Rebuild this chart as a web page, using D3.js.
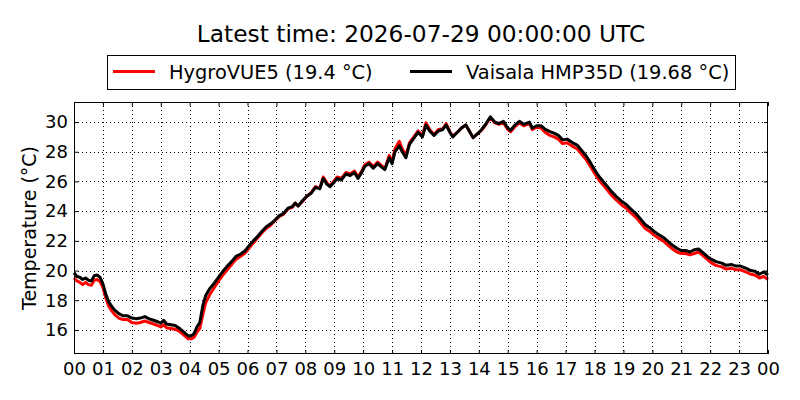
<!DOCTYPE html>
<html>
<head>
<meta charset="utf-8">
<script src="https://cdn.jsdelivr.net/npm/d3@7"></script>
<style>
  body { margin: 0; background: #fff; }
  svg { display: block; font-family: "DejaVu Sans", sans-serif; }
</style>
</head>
<body>
<div id="chart"></div>
<script>
// Data (hours since 00 UTC)
var hours = [
    0.00, 0.10, 0.20, 0.30, 0.40, 0.50, 0.60, 0.70, 0.80, 0.90,
    1.00, 1.10, 1.20, 1.30, 1.40, 1.55, 1.70, 1.85, 2.00, 2.15,
    2.30, 2.45, 2.60, 2.75, 2.90, 3.00, 3.10, 3.20, 3.35, 3.50,
    3.65, 3.80, 3.95, 4.05, 4.15, 4.25, 4.35, 4.45, 4.55, 4.70,
    4.85, 5.00, 5.15, 5.30, 5.45, 5.60, 5.75, 5.90, 6.05, 6.20,
    6.35, 6.50, 6.65, 6.80, 6.95, 7.10, 7.25, 7.40, 7.55, 7.65,
    7.75, 7.90, 8.05, 8.20, 8.35, 8.50, 8.62, 8.75, 8.85, 9.00,
    9.10, 9.25, 9.40, 9.55, 9.70, 9.82, 9.95, 10.05, 10.20, 10.35,
    10.50, 10.65, 10.75, 10.90, 11.00, 11.10, 11.25, 11.35, 11.48, 11.60,
    11.75, 11.90, 12.05, 12.17, 12.30, 12.45, 12.60, 12.75, 12.87, 13.00,
    13.10, 13.25, 13.40, 13.55, 13.70, 13.80, 13.95, 14.10, 14.25, 14.40,
    14.55, 14.70, 14.85, 15.00, 15.10, 15.25, 15.40, 15.55, 15.75, 15.85,
    16.00, 16.15, 16.30, 16.46, 16.60, 16.75, 16.90, 17.05, 17.25, 17.40,
    17.55, 17.70, 17.85, 18.00, 18.15, 18.30, 18.45, 18.60, 18.75, 18.95,
    19.10, 19.25, 19.45, 19.60, 19.75, 19.90, 20.05, 20.20, 20.40, 20.55,
    20.70, 20.85, 21.00, 21.15, 21.30, 21.45, 21.60, 21.75, 21.90, 22.05,
    22.20, 22.40, 22.55, 22.75, 22.90, 23.05, 23.25, 23.40, 23.55, 23.70,
    23.85, 24.00
];

var hygrovue = [
    19.5, 19.3, 19.2, 19.05, 19.2, 19.05, 19.0, 19.35, 19.4, 19.25,
    18.85, 18.15, 17.6, 17.3, 17.05, 16.8, 16.7, 16.7, 16.5, 16.45,
    16.5, 16.6, 16.5, 16.4, 16.3, 16.2, 16.35, 16.15, 16.1, 16.05,
    15.9, 15.65, 15.4, 15.4, 15.5, 15.85, 16.1, 17.0, 17.8, 18.4,
    18.85, 19.3, 19.7, 20.05, 20.4, 20.75, 20.95, 21.15, 21.5, 21.85,
    22.2, 22.55, 22.85, 23.05, 23.35, 23.65, 23.8, 24.15, 24.25, 24.55,
    24.35, 24.65, 25.0, 25.25, 25.65, 25.55, 26.3, 25.9, 25.7, 26.05,
    26.3, 26.2, 26.6, 26.5, 26.7, 26.3, 26.7, 27.1, 27.3, 27.0,
    27.3, 27.05, 26.85, 27.75, 27.3, 28.2, 28.7, 28.2, 27.75, 28.6,
    29.0, 29.4, 29.1, 29.95, 29.5, 29.15, 29.5, 29.55, 29.9, 29.35,
    29.05, 29.3, 29.6, 29.8, 29.3, 28.95, 29.2, 29.45, 29.85, 30.3,
    29.95, 29.85, 29.95, 29.5, 29.35, 29.7, 29.95, 29.75, 29.9, 29.5,
    29.65, 29.6, 29.3, 29.1, 29.0, 28.85, 28.55, 28.6, 28.35, 28.2,
    27.85, 27.5, 27.05, 26.55, 26.1, 25.75, 25.4, 25.05, 24.75, 24.4,
    24.2, 23.9, 23.55, 23.2, 22.85, 22.65, 22.4, 22.2, 21.95, 21.7,
    21.45, 21.25, 21.15, 21.15, 21.05, 21.15, 21.25, 21.0, 20.75, 20.5,
    20.35, 20.25, 20.1, 20.15, 20.05, 20.05, 19.9, 19.75, 19.7, 19.5,
    19.6, 19.4
];

var vaisala = [
    19.85, 19.6, 19.55, 19.4, 19.5, 19.35, 19.3, 19.65, 19.7, 19.55,
    19.1, 18.4, 17.9, 17.6, 17.35, 17.1, 16.95, 16.95, 16.8, 16.75,
    16.8, 16.9, 16.75, 16.65, 16.55, 16.45, 16.65, 16.4, 16.35, 16.3,
    16.1, 15.85, 15.6, 15.6, 15.75, 16.2, 16.5, 17.6, 18.3, 18.8,
    19.15, 19.55, 19.95, 20.3, 20.6, 20.95, 21.1, 21.3, 21.65, 22.0,
    22.3, 22.65, 22.95, 23.15, 23.4, 23.7, 23.85, 24.2, 24.3, 24.55,
    24.35, 24.7, 25.0, 25.2, 25.6, 25.5, 26.2, 25.8, 25.65, 25.95,
    26.2, 26.1, 26.5, 26.4, 26.6, 26.2, 26.6, 27.0, 27.2, 26.9,
    27.2, 26.95, 26.8, 27.6, 27.2, 28.0, 28.4, 28.0, 27.6, 28.5,
    28.9, 29.3, 29.0, 29.8, 29.4, 29.1, 29.4, 29.5, 29.8, 29.3,
    29.0, 29.3, 29.6, 29.8, 29.3, 28.95, 29.2, 29.5, 29.9, 30.35,
    30.0, 29.9, 30.05, 29.6, 29.45, 29.8, 30.05, 29.85, 30.0, 29.6,
    29.75, 29.75, 29.5, 29.35, 29.25, 29.1, 28.8, 28.85, 28.6, 28.45,
    28.1, 27.75, 27.3, 26.8, 26.35, 26.0, 25.65, 25.3, 25.0, 24.65,
    24.45, 24.15, 23.8, 23.45, 23.1, 22.9, 22.65, 22.45, 22.2, 21.95,
    21.7, 21.5, 21.35, 21.35, 21.25, 21.4, 21.45, 21.2, 20.95, 20.75,
    20.6, 20.5, 20.35, 20.4, 20.3, 20.3, 20.15, 20.0, 19.95, 19.75,
    19.9, 19.7
];

var yTicks = [16, 18, 20, 22, 24, 26, 28, 30];
var xTicks = d3.range(0, 25);
var seriesNames = ['HygroVUE5 (19.4 °C)', 'Vaisala HMP35D (19.68 °C)'];
var seriesColors = ['#ff0000', '#000000'];
var titleText = 'Latest time: 2026-07-29 00:00:00 UTC';

var w = 800, h = 400;
var margin = {top: 102, right: 32, bottom: 46, left: 74};
var iw = w - margin.left - margin.right;
var ih = h - margin.top - margin.bottom;

var svg = d3.select('#chart').append('svg')
    .attr('width', w)
    .attr('height', h)
;

// Scales
var x = d3.scaleLinear().domain([0, 24]).range([0, iw]);
var y = d3.scaleLinear().domain([14.38, 31.35]).range([ih, 0]);

var g = svg.append('g')
    .attr('transform', 'translate(' + margin.left + ',' + margin.top + ')');

// Grid
g.append('g').selectAll('line')
    .data(xTicks.slice(1, -1))
    .enter().append('line')
    .attr('x1', function (d) { return Math.round(x(d)) + 0.5; })
    .attr('x2', function (d) { return Math.round(x(d)) + 0.5; })
    .attr('y1', 0)
    .attr('y2', ih)
    .attr('stroke', '#000')
    .attr('stroke-width', 1)
    .attr('stroke-dasharray', '1,3')
;
g.append('g').selectAll('line')
    .data(yTicks)
    .enter().append('line')
    .attr('x1', 0)
    .attr('x2', iw)
    .attr('y1', function (d) { return Math.round(y(d)) + 0.5; })
    .attr('y2', function (d) { return Math.round(y(d)) + 0.5; })
    .attr('stroke', '#000')
    .attr('stroke-width', 1)
    .attr('stroke-dasharray', '1,3')
;

// Lines
var line = d3.line()
    .x(function (d) { return x(d[0]); })
    .y(function (d) { return y(d[1]); })
;
[hygrovue, vaisala].forEach(function (vals, k) {
    g.append('path')
        .datum(hours.map(function (t, i) { return [t, vals[i]]; }))
        .attr('d', line)
        .attr('fill', 'none')
        .attr('stroke', seriesColors[k])
        .attr('stroke-width', 3)
        .attr('stroke-linejoin', 'round')
    ;
});

// Axes (ticks inward, matplotlib classic)
var fmtHour = function (d) { return d3.format('02d')(d % 24); };
var xAxis = g.append('g')
    .attr('transform', 'translate(0,' + ih + ')')
    .call(d3.axisBottom(x).tickValues(xTicks).tickFormat(fmtHour).tickSizeInner(-4).tickSizeOuter(0).tickPadding(8));
var xAxisTop = g.append('g')
    .call(d3.axisTop(x).tickValues(xTicks).tickFormat('').tickSizeInner(-4).tickSizeOuter(0));
var yAxis = g.append('g')
    .call(d3.axisLeft(y).tickValues(yTicks).tickSizeInner(-4).tickSizeOuter(0).tickPadding(6));
var yAxisRight = g.append('g')
    .attr('transform', 'translate(' + iw + ',0)')
    .call(d3.axisRight(y).tickValues(yTicks).tickFormat('').tickSizeInner(-4).tickSizeOuter(0));

[xAxis, xAxisTop, yAxis, yAxisRight].forEach(function (a) {
    a.select('.domain').remove();
    a.selectAll('text')
        .attr('font-family', '"DejaVu Sans", sans-serif')
        .attr('font-size', '18px')
        .attr('fill', '#000');
});

// Frame
g.append('rect')
    .attr('x', 0.5)
    .attr('y', 0.5)
    .attr('width', iw - 1)
    .attr('height', ih - 1)
    .attr('fill', 'none')
    .attr('stroke', '#000')
    .attr('stroke-width', 1)
;

// Y label
svg.append('text')
    .attr('transform', 'translate(36,' + (margin.top + ih / 2) + ') rotate(-90)')
    .attr('text-anchor', 'middle')
    .attr('font-size', '19px')
    .text('Temperature (°C)')
;

// Title
svg.append('text')
    .attr('x', margin.left + iw / 2)
    .attr('y', 42)
    .attr('text-anchor', 'middle')
    .attr('font-size', '23.3px')
    .text(titleText)
;

// Legend
var legend = svg.append('g');
legend.append('rect')
    .attr('x', 107.5)
    .attr('y', 55.5)
    .attr('width', 628)
    .attr('height', 34)
    .attr('fill', '#fff')
    .attr('stroke', '#000')
    .attr('stroke-width', 1)
;
var legX = [113, 410];
seriesNames.forEach(function (name, k) {
    legend.append('line')
        .attr('x1', legX[k])
        .attr('x2', legX[k] + 42)
        .attr('y1', 71.5)
        .attr('y2', 71.5)
        .attr('stroke', seriesColors[k])
        .attr('stroke-width', 3)
    ;
    legend.append('text')
        .attr('x', legX[k] + 56)
        .attr('y', 78.5)
        .attr('font-size', '19.4px')
        .text(name)
    ;
});
</script>
</body>
</html>
